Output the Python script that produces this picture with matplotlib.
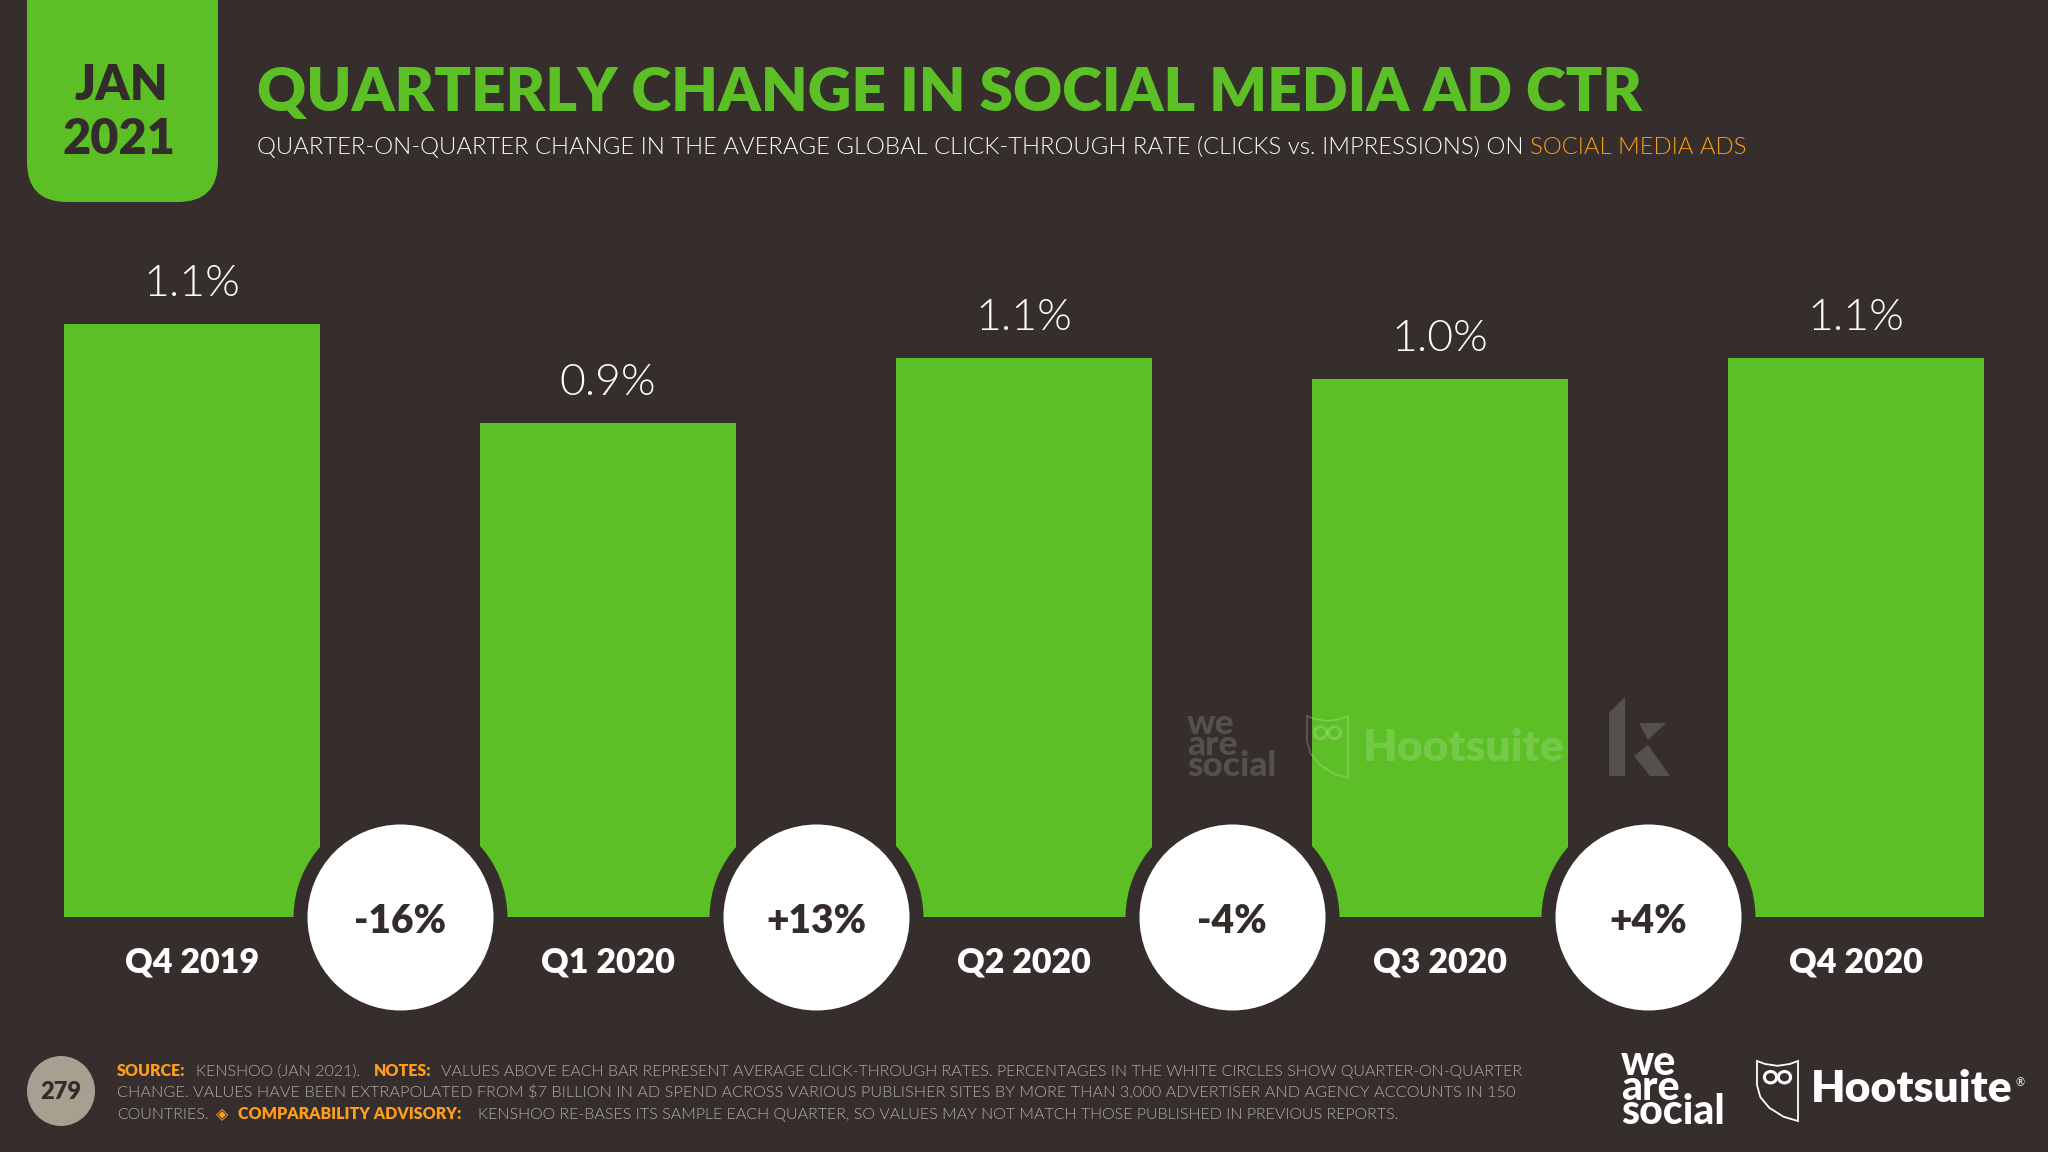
import matplotlib
matplotlib.use("Agg")
import matplotlib.pyplot as plt
from matplotlib.patches import FancyBboxPatch, Ellipse, Polygon

# Data
quarters = ["Q4 2019", "Q1 2020", "Q2 2020", "Q3 2020", "Q4 2020"]
ctr_values = [1.14, 0.95, 1.075, 1.035, 1.075]
ctr_labels = ["1.1%", "0.9%", "1.1%", "1.0%", "1.1%"]
changes = ["-16%", "+13%", "-4%", "+4%"]

BG = "#352E2D"
GREEN = "#5CBF26"
ORANGE = "#FF9E1B"
GREY = "#B4AFA8"
DARK = "#332C2B"

HEAD = "Lato"
LIGHT = "Lato"
THIN = 300

fig = plt.figure(figsize=(20.48, 11.52), dpi=100, facecolor=BG)

# Bars (axes spans first bar left edge to last bar right edge)
ax = fig.add_axes([64 / 2048, (1152 - 917) / 1152, 1920 / 2048, 667 / 1152])
ax.patch.set_visible(False)
for s in ax.spines.values():
    s.set_visible(False)
ax.set_xlim(-128 / 416, 4 + 128 / 416)
ax.set_ylim(0, 667 / 520)
ax.set_yticks([])
positions = list(range(len(quarters)))
ax.bar(positions, ctr_values, width=256 / 416, color=GREEN, zorder=1)
ax.set_xticks(positions)
ax.set_xticklabels(quarters, fontsize=24.5, fontweight="heavy", color="white", family=HEAD)
ax.tick_params(axis="x", length=0, pad=21)

for p, v, lab in zip(positions, ctr_values, ctr_labels):
    ax.annotate(lab, (p, v), xytext=(0, 20), textcoords="offset points", ha="center",
                va="baseline", fontsize=32, fontweight=THIN, color="white", family=LIGHT)

# Circles with change between the bars
mids = [p + 0.5 for p in positions[:-1]]
ax.scatter(mids, [0] * len(mids), s=(214 * 0.72) ** 2, color=BG, linewidths=0, clip_on=False, zorder=2)
ax.scatter(mids, [0] * len(mids), s=(186 * 0.72) ** 2, color="white", linewidths=0, clip_on=False, zorder=3)
for m, c in zip(mids, changes):
    ax.annotate(c, (m, 0), xytext=(0, -3.5), textcoords="offset points", ha="center", va="center",
                fontsize=28, fontweight="heavy", color=DARK, family=HEAD, zorder=4, annotation_clip=False)

# Overlay in pixel coords for header, footer and logos
ov = fig.add_axes([0, 0, 1, 1], zorder=5)
ov.set_xlim(0, 2048)
ov.set_ylim(1152, 0)
ov.axis("off")

ov.add_patch(FancyBboxPatch((27, -80), 191, 282, boxstyle="round,pad=0,rounding_size=40",
                            facecolor=GREEN, edgecolor="none"))
ov.text(121, 86, "JAN", ha="center", va="center", fontsize=35, fontweight="heavy", color=DARK, family=HEAD)
ov.text(119, 140, "2021", ha="center", va="center", fontsize=35, fontweight="heavy", color=DARK, family=HEAD)

ov.text(257, 111, "QUARTERLY CHANGE IN SOCIAL MEDIA AD CTR", fontsize=43.5, fontweight="heavy",
        color=GREEN, family=HEAD, va="baseline")

renderer = fig.canvas.get_renderer()


def draw_parts(x, y, parts, size):
    # text pieces side by side, each placed after the width of the last
    for txt, col, weight, gap in parts:
        t = ov.text(x, y, txt, fontsize=size, color=col, fontweight=weight,
                    family=[LIGHT, "DejaVu Sans"], va="baseline")
        x += t.get_window_extent(renderer).width + gap
    return x


draw_parts(257, 154, [
    ("QUARTER-ON-QUARTER CHANGE IN THE AVERAGE GLOBAL CLICK-THROUGH RATE (CLICKS vs. IMPRESSIONS) ON",
     "white", THIN, 7),
    ("SOCIAL MEDIA ADS", ORANGE, THIN, 0),
], 17.2)

# Footer
ov.add_patch(Ellipse((61, 1091), 68, 70, facecolor="#A89F91", edgecolor="none"))
ov.text(61, 1092, "279", ha="center", va="center", fontsize=17, fontweight="heavy", color=DARK, family=HEAD)

foot = 11.55
draw_parts(117, 1076, [
    ("SOURCE:", ORANGE, "heavy", 10),
    ("KENSHOO (JAN 2021).", GREY, THIN, 14),
    ("NOTES:", ORANGE, "heavy", 10),
    ("VALUES ABOVE EACH BAR REPRESENT AVERAGE CLICK-THROUGH RATES. PERCENTAGES IN THE WHITE CIRCLES SHOW QUARTER-ON-QUARTER",
     GREY, THIN, 0),
], foot)
draw_parts(117, 1097, [
    ("CHANGE. VALUES HAVE BEEN EXTRAPOLATED FROM $7 BILLION IN AD SPEND ACROSS VARIOUS PUBLISHER SITES BY MORE THAN 3,000 ADVERTISER AND AGENCY ACCOUNTS IN 150",
     GREY, THIN, 0),
], 11.72)
draw_parts(117, 1119, [
    ("COUNTRIES.", GREY, THIN, 7),
    ("\u25c8", ORANGE, "normal", 10),
    ("COMPARABILITY ADVISORY:", ORANGE, "heavy", 17),
    ("KENSHOO RE-BASES ITS SAMPLE EACH QUARTER, SO VALUES MAY NOT MATCH THOSE PUBLISHED IN PREVIOUS REPORTS.",
     GREY, THIN, 0),
], foot)


def owl(x, y, w, h, color, alpha=1.0):
    # rough shield outline with two eyes
    shield = [(x, y), (x + w * 0.2, y + h * 0.05), (x + w * 0.5, y + h * 0.08), (x + w * 0.8, y + h * 0.05),
              (x + w, y), (x + w, y + h), (x + w * 0.65, y + h * 0.93), (x + w * 0.3, y + h * 0.78),
              (x + w * 0.08, y + h * 0.6), (x, y + h * 0.4)]
    ov.add_patch(Polygon(shield, closed=True, fill=False, edgecolor=color, linewidth=1.3, alpha=alpha))
    for ex in (0.33, 0.67):
        ov.add_patch(Ellipse((x + w * ex, y + h * 0.27), w * 0.3, h * 0.19, fill=False,
                             edgecolor=color, linewidth=2.2, alpha=alpha))


# Logos bottom right
ov.text(1621, 1124, "we\nare\nsocial", fontsize=29.5, fontweight="black", color="white", family=HEAD,
        va="baseline", linespacing=0.56)
owl(1757, 1061, 41, 60, "white")
ov.text(1811, 1102, "Hootsuite", fontsize=32, fontweight="heavy", color="white", family=HEAD, va="baseline")
ov.text(2016, 1086, "\u00ae", fontsize=8, color="white", family=HEAD, va="baseline")

# Watermarks
wm = dict(color="white", alpha=0.16, family=HEAD)
ov.text(1187, 776, "we\nare\nsocial", fontsize=25.5, fontweight="black", va="baseline", linespacing=0.58, **wm)
owl(1307, 716, 41, 62, "white", alpha=0.2)
ov.text(1363, 761, "Hootsuite", fontsize=32, fontweight="heavy", va="baseline", **wm)
ov.add_patch(Polygon([(1609, 776), (1609, 713), (1625, 697), (1625, 776)], facecolor="white", alpha=0.16, edgecolor="none"))
ov.add_patch(Polygon([(1639, 723), (1666, 723), (1648, 740)], facecolor="white", alpha=0.16, edgecolor="none"))
ov.add_patch(Polygon([(1634, 756), (1648, 745), (1670, 776), (1650, 776)], facecolor="white", alpha=0.16, edgecolor="none"))

fig.savefig("out.png", dpi=100, facecolor=BG)
